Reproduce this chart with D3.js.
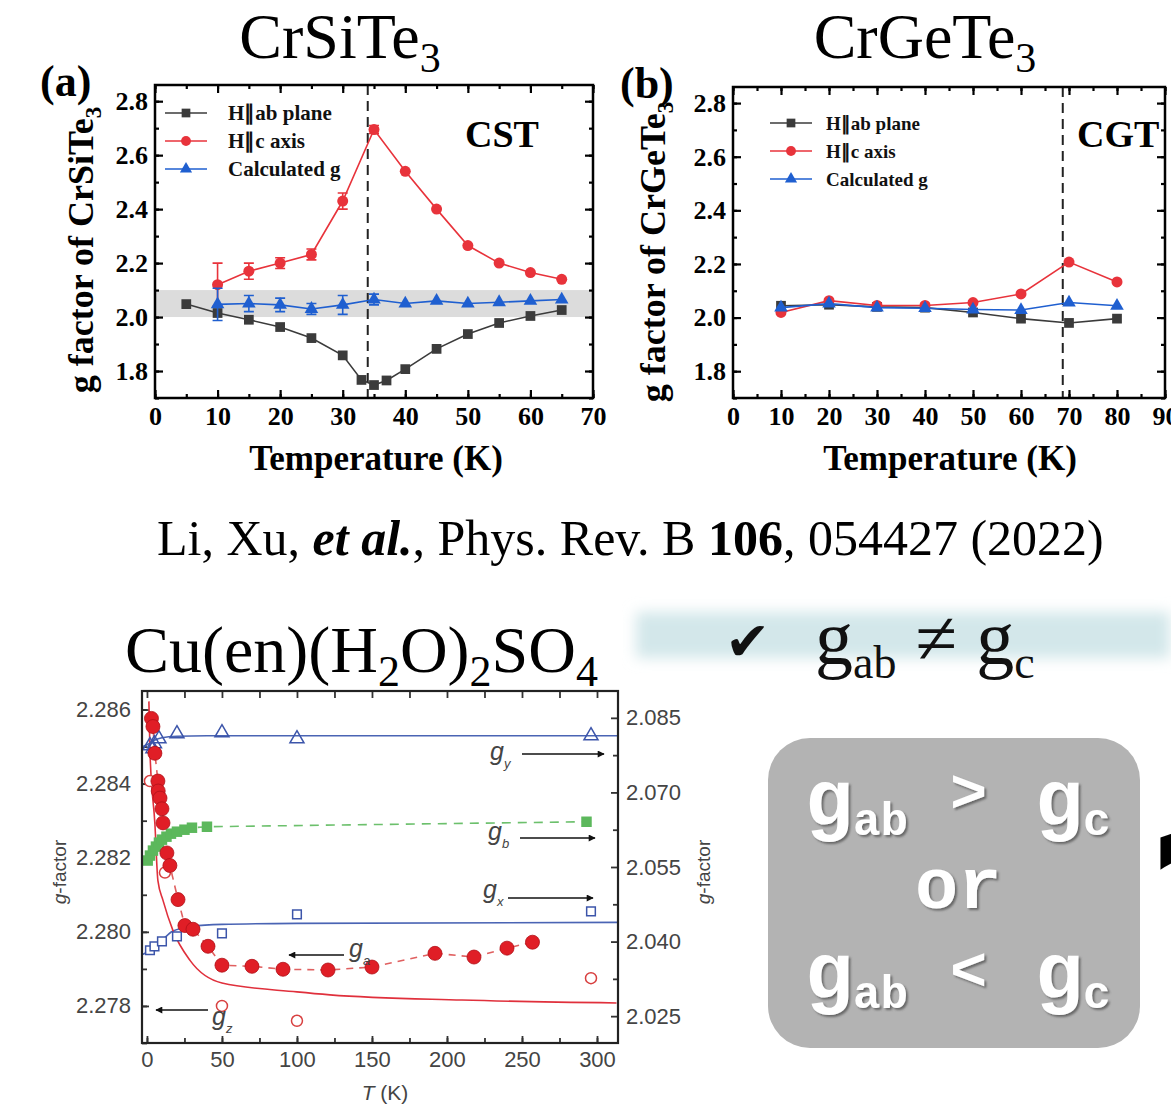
<!DOCTYPE html>
<html><head><meta charset="utf-8">
<script src="https://cdn.jsdelivr.net/npm/d3@7"></script>
<style>body{margin:0;background:#fff;} svg{display:block;}</style>
</head><body>
<script>
// ---------- Panel (a) CrSiTe3 ----------
const cstXTicks = [0,10,20,30,40,50,60,70];
const cstYTicks = [1.8,2.0,2.2,2.4,2.6,2.8];
const cstAbT  = [5,10,15,20,25,30,33,35,37,40,45,50,55,60,65];
const cstAbG  = [2.048,2.015,1.99,1.963,1.922,1.858,1.767,1.748,1.765,1.807,1.882,1.937,1.978,2.004,2.026];
const cstCT   = [10,15,20,25,30,35,40,45,50,55,60,65];
const cstCG   = [2.12,2.17,2.2,2.232,2.43,2.695,2.54,2.40,2.265,2.2,2.165,2.14];
const cstCErr = [0.08,0.03,0.02,0.02,0.03,0.015,0,0,0,0,0,0];
const cstCalcT   = [10,15,20,25,30,35,40,45,50,55,60,65];
const cstCalcG   = [2.047,2.05,2.045,2.03,2.045,2.065,2.05,2.06,2.05,2.055,2.06,2.065];
const cstCalcErr = [0.06,0.03,0.025,0.02,0.035,0.02,0,0,0,0,0,0];
const cstTc = 34;
const cstBand = [2.0,2.1];

// ---------- Panel (b) CrGeTe3 ----------
const cgtXTicks = [0,10,20,30,40,50,60,70,80,90];
const cgtYTicks = [1.8,2.0,2.2,2.4,2.6,2.8];
const cgtT     = [10,20,30,40,50,60,70,80];
const cgtAbG   = [2.044,2.048,2.04,2.037,2.019,1.996,1.98,1.996];
const cgtCG    = [2.019,2.063,2.045,2.045,2.056,2.088,2.207,2.133];
const cgtCalcG = [2.037,2.052,2.037,2.035,2.03,2.028,2.056,2.044];
const cgtTc = 68.7;

const legendLabels = ["H\u2225ab plane","H\u2225c axis","Calculated g"];

// ---------- Bottom chart Cu(en)(H2O)2SO4 ----------
const cuXTicks = [0,50,100,150,200,250,300];
const cuLTicks = [2.278,2.280,2.282,2.284,2.286];
const cuRTicks = [2.025,2.040,2.055,2.070,2.085];
// g_a (filled red circles, left axis)
const gaT = [3,4,5.3,7.3,7.5,8.7,10,10.7,13.3,15.3,20.7,25.3,30.7,40.7,50,70,90.7,120.7,150,192,218,240,257];
const gaG = [2.28576,2.28554,2.28482,2.28407,2.2838,2.28361,2.28332,2.28294,2.28213,2.28179,2.28087,2.28017,2.28007,2.27961,2.2791,2.27907,2.27899,2.27897,2.27905,2.27942,2.27932,2.27956,2.27972];
// g_z (open red circles, left axis)
const gzT = [2,12,50,100,296];
const gzG = [2.28407,2.2816,2.278,2.2776,2.27875];
// red fit line (left axis)
const gzFitT = [1.3,2,5.3,7.3,10.7,17.3,28.7,50,100,122,210,313];
const gzFitG = [2.28622,2.28487,2.28291,2.28138,2.28085,2.28004,2.27923,2.27862,2.27838,2.2783,2.27816,2.27808];
// g_y (open blue triangles, right axis)
const gyT = [2,4,5,8,20,50,100,296];
const gyG = [2.0794,2.0788,2.0798,2.0808,2.0818,2.082,2.0808,2.0814];
const gyFitT = [-3,0,5,10,20,40,100,200,314];
const gyFitG = [2.0792,2.0796,2.0805,2.0810,2.0813,2.0814,2.0814,2.0814,2.0814];
// g_b (green squares, right axis)
const gbT = [0.5,2,4,6,8,10,13,16,20,25,30,40,293];
const gbG = [2.0563,2.0573,2.0583,2.0591,2.0599,2.0605,2.0611,2.0617,2.0621,2.0625,2.0629,2.0631,2.0641];
// g_x (open blue squares, right axis)
const gxT = [2,5,10,20,50,100,296];
const gxG = [2.03825,2.03905,2.04005,2.04105,2.04166,2.04547,2.04607];
const gxFitT = [-3,0,10,17,30,50,100,314];
const gxFitG = [2.0374,2.03784,2.04025,2.04206,2.04306,2.04346,2.04366,2.04386];

// ============================================================
const W = 1171, H = 1118;
const svg = d3.select("body").append("svg").attr("width", W).attr("height", H);
svg.append("rect").attr("width", W).attr("height", H).attr("fill", "#fff");
const defs = svg.append("defs");
const SERIF = "'Liberation Serif','Times New Roman',serif";
const SANS = "'Liberation Sans',Arial,sans-serif";

function rich(parent, x, y, parts, base) {
  const t = parent.append("text").attr("x", x).attr("y", y);
  Object.entries(base || {}).forEach(([k, v]) => t.attr(k, v));
  let cur = 0;
  parts.forEach(p => {
    const s = t.append("tspan").text(p.t);
    const off = p.off || 0;
    if (off !== cur) { s.attr("dy", off - cur); cur = off; }
    if (p.size) s.attr("font-size", p.size);
    if (p.weight) s.attr("font-weight", p.weight);
    if (p.style) s.attr("font-style", p.style);
  });
  return t;
}

const colors = { ab: "#3b3b3b", c: "#e8333b", calc: "#1f5fd0" };
const symType = { ab: d3.symbolSquare, c: d3.symbolCircle, calc: d3.symbolTriangle };
const symSize = { ab: 95, c: 95, calc: 80 };

function drawPanel(cfg) {
  const x = d3.scaleLinear().domain(cfg.xDomain).range([cfg.x0, cfg.x1]);
  const y = d3.scaleLinear().domain(cfg.yDomain).range([cfg.y1, cfg.y0]);
  const g = svg.append("g");
  if (cfg.band) {
    g.append("rect").attr("x", cfg.x0).attr("width", cfg.x1 - cfg.x0)
      .attr("y", y(cfg.band[1])).attr("height", y(cfg.band[0]) - y(cfg.band[1]))
      .attr("fill", "#dcdcdc");
  }
  const style = a => {
    a.select(".domain").remove();
    a.selectAll(".tick line").attr("stroke", "#000").attr("stroke-width", 2.2);
    a.selectAll(".tick text").attr("font-family", SERIF).attr("font-weight", "bold")
      .attr("font-size", 26).attr("fill", "#000");
  };
  const minorX = d3.range(cfg.xDomain[0], cfg.xDomain[1] + 0.001, 5);
  const minorY = d3.range(1.7, cfg.yDomain[1], 0.1);
  g.append("g").attr("transform", `translate(0,${cfg.y1})`)
    .call(d3.axisBottom(x).tickValues(cfg.xTicks).tickSize(-8).tickPadding(9).tickFormat(d3.format("d"))).call(style);
  g.append("g").attr("transform", `translate(0,${cfg.y1})`)
    .call(d3.axisBottom(x).tickValues(minorX).tickSize(-4).tickFormat("")).call(style);
  g.append("g").attr("transform", `translate(0,${cfg.y0})`)
    .call(d3.axisTop(x).tickValues(cfg.xTicks).tickSize(-8).tickFormat("")).call(style);
  g.append("g").attr("transform", `translate(0,${cfg.y0})`)
    .call(d3.axisTop(x).tickValues(minorX).tickSize(-4).tickFormat("")).call(style);
  g.append("g").attr("transform", `translate(${cfg.x0},0)`)
    .call(d3.axisLeft(y).tickValues(cfg.yTicks).tickSize(-8).tickPadding(7).tickFormat(d3.format(".1f"))).call(style);
  g.append("g").attr("transform", `translate(${cfg.x0},0)`)
    .call(d3.axisLeft(y).tickValues(minorY).tickSize(-4).tickFormat("")).call(style);
  g.append("g").attr("transform", `translate(${cfg.x1},0)`)
    .call(d3.axisRight(y).tickValues(cfg.yTicks).tickSize(-8).tickFormat("")).call(style);
  g.append("g").attr("transform", `translate(${cfg.x1},0)`)
    .call(d3.axisRight(y).tickValues(minorY).tickSize(-4).tickFormat("")).call(style);

  // Tc dashed line
  g.append("line").attr("x1", x(cfg.tc)).attr("x2", x(cfg.tc)).attr("y1", cfg.y0).attr("y2", cfg.y1)
    .attr("stroke", "#222").attr("stroke-width", 2).attr("stroke-dasharray", "10,6");

  // series
  cfg.series.forEach(s => {
    const pts = s.T.map((t, i) => [t, s.G[i], s.E ? s.E[i] : 0]);
    g.append("path").datum(pts).attr("fill", "none").attr("stroke", colors[s.k]).attr("stroke-width", 1.6)
      .attr("d", d3.line().x(d => x(d[0])).y(d => y(d[1])));
    pts.filter(d => d[2] > 0).forEach(d => {
      const xx = x(d[0]);
      g.append("path").attr("fill", "none").attr("stroke", colors[s.k]).attr("stroke-width", 1.6)
        .attr("d", `M${xx - 5},${y(d[1] + d[2])}H${xx + 5}M${xx},${y(d[1] + d[2])}V${y(d[1] - d[2])}M${xx - 5},${y(d[1] - d[2])}H${xx + 5}`);
    });
    g.selectAll(null).data(pts).enter().append("path")
      .attr("transform", d => `translate(${x(d[0])},${y(d[1])})`)
      .attr("d", d3.symbol().type(symType[s.k]).size(symSize[s.k])).attr("fill", colors[s.k]);
  });

  // frame
  g.append("rect").attr("x", cfg.x0).attr("y", cfg.y0).attr("width", cfg.x1 - cfg.x0).attr("height", cfg.y1 - cfg.y0)
    .attr("fill", "none").attr("stroke", "#000").attr("stroke-width", 2.5);

  // legend
  ["ab", "c", "calc"].forEach((k, i) => {
    const ly = cfg.leg.y + i * 28;
    g.append("line").attr("x1", cfg.leg.x).attr("x2", cfg.leg.x + 42).attr("y1", ly).attr("y2", ly)
      .attr("stroke", colors[k]).attr("stroke-width", 1.6);
    g.append("path").attr("transform", `translate(${cfg.leg.x + 21},${ly})`)
      .attr("d", d3.symbol().type(symType[k]).size(symSize[k] * 0.8)).attr("fill", colors[k]);
    g.append("text").attr("x", cfg.leg.tx).attr("y", ly + 7).text(legendLabels[i])
      .attr("font-family", SERIF).attr("font-weight", "bold").attr("font-size", cfg.leg.fs).attr("fill", "#111");
  });
  g.append("text").attr("x", cfg.tag.x).attr("y", cfg.tag.y).text(cfg.tag.t)
    .attr("font-family", SERIF).attr("font-weight", "bold").attr("font-size", 38);
  // axis titles
  g.append("text").attr("x", (cfg.x0 + cfg.x1) / 2 - cfg.xlabShift).attr("y", 470).text("Temperature (K)")
    .attr("text-anchor", "middle").attr("font-family", SERIF).attr("font-weight", "bold").attr("font-size", 35);
  rich(g, 0, 0, [{ t: "g factor of " + cfg.mat }, { t: "3", size: 23, off: 8 }],
    { "text-anchor": "middle", "font-family": SERIF, "font-weight": "bold", "font-size": 36,
      transform: `translate(${cfg.ylabX},${cfg.ylabY}) rotate(-90)` });
}

drawPanel({
  x0: 155, x1: 593, y0: 85, y1: 398, xDomain: [0, 70], yDomain: [1.7, 2.86],
  xTicks: cstXTicks, yTicks: cstYTicks, tc: cstTc, band: cstBand,
  series: [
    { k: "ab", T: cstAbT, G: cstAbG },
    { k: "c", T: cstCT, G: cstCG, E: cstCErr },
    { k: "calc", T: cstCalcT, G: cstCalcG, E: cstCalcErr }
  ],
  leg: { x: 165, y: 113, tx: 228, fs: 21 },
  tag: { x: 465, y: 147, t: "CST" }, mat: "CrSiTe", ylabX: 93, ylabY: 250, xlabShift: -2
});
drawPanel({
  x0: 733, x1: 1165, y0: 87, y1: 398, xDomain: [0, 90], yDomain: [1.7, 2.86],
  xTicks: cgtXTicks, yTicks: cgtYTicks, tc: cgtTc,
  series: [
    { k: "ab", T: cgtT, G: cgtAbG },
    { k: "c", T: cgtT, G: cgtCG },
    { k: "calc", T: cgtT, G: cgtCalcG }
  ],
  leg: { x: 770, y: 123, tx: 826, fs: 19 },
  tag: { x: 1077, y: 147, t: "CGT" }, mat: "CrGeTe", ylabX: 665, ylabY: 252, xlabShift: -1
});

// panel letters and titles
svg.append("text").attr("x", 40).attr("y", 96).text("(a)").attr("font-family", SERIF).attr("font-weight", "bold").attr("font-size", 44);
svg.append("text").attr("x", 620).attr("y", 98).text("(b)").attr("font-family", SERIF).attr("font-weight", "bold").attr("font-size", 44);
rich(svg, 340, 58, [{ t: "CrSiTe" }, { t: "3", size: 42, off: 14 }], { "text-anchor": "middle", "font-family": SERIF, "font-size": 64 });
rich(svg, 925, 58, [{ t: "CrGeTe" }, { t: "3", size: 42, off: 14 }], { "text-anchor": "middle", "font-family": SERIF, "font-size": 64 });

// citation
rich(svg, 157, 555, [
  { t: "Li, Xu, " }, { t: "et al.", weight: "bold", style: "italic" }, { t: ", Phys. Rev. B " },
  { t: "106", weight: "bold" }, { t: ", 054427 (2022)" }
], { "font-family": SERIF, "font-size": 50 });

// Cu(en)(H2O)2SO4 title
rich(svg, 125, 672, [
  { t: "Cu(en)(H" }, { t: "2", size: 44, off: 14 }, { t: "O)" }, { t: "2", size: 44, off: 14 },
  { t: "SO" }, { t: "4", size: 44, off: 14 }
], { "font-family": SERIF, "font-size": 66 });

// banner
const blur = defs.append("filter").attr("id", "blur").attr("x", "-10%").attr("y", "-50%").attr("width", "120%").attr("height", "200%");
blur.append("feGaussianBlur").attr("stdDeviation", 7);
svg.append("rect").attr("x", 636).attr("y", 612).attr("width", 534).attr("height", 46).attr("fill", "#d3e7ea").attr("filter", "url(#blur)");
svg.append("text").attr("x", 725).attr("y", 660).text("\u2714").attr("font-family", "'DejaVu Sans',sans-serif").attr("font-size", 54).attr("fill", "#111");
rich(svg, 815, 664, [
  { t: "g" }, { t: "ab", size: 46, off: 14 }, { t: " \u2260 " }, { t: "g" }, { t: "c", size: 46, off: 14 }
], { "font-family": SERIF, "font-size": 76, fill: "#111" });

// gray box
svg.append("rect").attr("x", 768).attr("y", 738).attr("width", 372).attr("height", 310).attr("rx", 42).attr("fill", "#b3b3b3");
const shadow = defs.append("filter").attr("id", "shadow").attr("x", "-20%").attr("y", "-20%").attr("width", "140%").attr("height", "140%");
shadow.append("feDropShadow").attr("dx", 2).attr("dy", 2).attr("stdDeviation", 1.2).attr("flood-color", "#555").attr("flood-opacity", 0.8);
const MONO = "'Liberation Mono','DejaVu Sans Mono',monospace";
const boxText = { "font-family": MONO, "font-weight": "bold", fill: "#fff", filter: "url(#shadow)" };
rich(svg, 805, 825, [{ t: "g", size: 80 }, { t: "ab", size: 46, off: 10 }], boxText);
rich(svg, 950, 812, [{ t: ">", size: 62 }], boxText);
rich(svg, 1035, 825, [{ t: "g", size: 80 }, { t: "c", size: 46, off: 10 }], boxText);
rich(svg, 915, 908, [{ t: "or", size: 72 }], boxText);
rich(svg, 805, 998, [{ t: "g", size: 80 }, { t: "ab", size: 46, off: 10 }], boxText);
rich(svg, 950, 990, [{ t: "<", size: 62 }], boxText);
rich(svg, 1035, 998, [{ t: "g", size: 80 }, { t: "c", size: 46, off: 10 }], boxText);
// partially visible glyph at right edge
svg.append("text").attr("x", 1146).attr("y", 985).text("?").attr("font-family", "'DejaVu Sans',sans-serif")
  .attr("font-weight", "bold").attr("font-size", 210).attr("fill", "#000");

// ---------- bottom chart ----------
const bx0 = 142, bx1 = 618, by0 = 691, by1 = 1043;
const bx = d3.scaleLinear().domain([-3.3, 314]).range([bx0, bx1]);
const byL = d3.scaleLinear().domain([2.277, 2.2865]).range([by1, by0]);
const byR = d3.scaleLinear().domain([2.0196, 2.0904]).range([by1, by0]);
const bg = svg.append("g");
defs.append("clipPath").attr("id", "bclip").append("rect").attr("x", bx0).attr("y", by0).attr("width", bx1 - bx0).attr("height", by1 - by0);
const bstyle = a => {
  a.select(".domain").remove();
  a.selectAll(".tick line").attr("stroke", "#333").attr("stroke-width", 1.8);
  a.selectAll(".tick text").attr("font-family", SANS).attr("font-size", 22).attr("fill", "#444");
};
const minorBX = d3.range(0, 314, 25);
bg.append("g").attr("transform", `translate(0,${by1})`).call(d3.axisBottom(bx).tickValues(cuXTicks).tickSize(-7).tickPadding(8).tickFormat(d3.format("d"))).call(bstyle);
bg.append("g").attr("transform", `translate(0,${by1})`).call(d3.axisBottom(bx).tickValues(minorBX).tickSize(-5).tickFormat("")).call(bstyle);
bg.append("g").attr("transform", `translate(0,${by0})`).call(d3.axisTop(bx).tickValues(minorBX).tickSize(-7).tickFormat("")).call(bstyle);
bg.append("g").attr("transform", `translate(${bx0},0)`).call(d3.axisLeft(byL).tickValues(cuLTicks).tickSize(-7).tickPadding(11).tickFormat(d3.format(".3f"))).call(bstyle);
bg.append("g").attr("transform", `translate(${bx0},0)`).call(d3.axisLeft(byL).tickValues(d3.range(2.277, 2.2866, 0.001)).tickSize(-5).tickFormat("")).call(bstyle);
bg.append("g").attr("transform", `translate(${bx1},0)`).call(d3.axisRight(byR).tickValues(cuRTicks).tickSize(-7).tickPadding(8).tickFormat(d3.format(".3f"))).call(bstyle);
bg.append("g").attr("transform", `translate(${bx1},0)`).call(d3.axisRight(byR).tickValues(d3.range(2.0325, 2.09, 0.015)).tickSize(-5).tickFormat("")).call(bstyle);

const plot = bg.append("g").attr("clip-path", "url(#bclip)");
const zipL = (T, G) => T.map((t, i) => [bx(t), byL(G[i])]);
const zipR = (T, G) => T.map((t, i) => [bx(t), byR(G[i])]);
const lineC = d3.line().curve(d3.curveMonotoneX);
const lineL = d3.line();
// fit lines
plot.append("path").attr("d", lineC(zipR(gyFitT, gyFitG))).attr("fill", "none").attr("stroke", "#4a64b4").attr("stroke-width", 1.6);
plot.append("path").attr("d", lineC(zipR(gxFitT, gxFitG))).attr("fill", "none").attr("stroke", "#4a64b4").attr("stroke-width", 1.6);
plot.append("path").attr("d", lineC(zipL(gzFitT, gzFitG))).attr("fill", "none").attr("stroke", "#e0303c").attr("stroke-width", 1.6);
// dashed connecting lines
plot.append("path").attr("d", lineL(zipR(gbT, gbG))).attr("fill", "none").attr("stroke", "#6cc06c").attr("stroke-width", 1.6).attr("stroke-dasharray", "9,7");
plot.append("path").attr("d", lineL(zipL(gaT, gaG))).attr("fill", "none").attr("stroke", "#e06060").attr("stroke-width", 1.6).attr("stroke-dasharray", "7,6");
// markers
plot.selectAll(null).data(zipR(gyT, gyG)).enter().append("path").attr("transform", d => `translate(${d[0]},${d[1]})`)
  .attr("d", d3.symbol().type(d3.symbolTriangle).size(85)).attr("fill", "none").attr("stroke", "#3c55aa").attr("stroke-width", 1.5);
plot.selectAll(null).data(zipR(gxT, gxG)).enter().append("path").attr("transform", d => `translate(${d[0]},${d[1]})`)
  .attr("d", d3.symbol().type(d3.symbolSquare).size(75)).attr("fill", "#fff").attr("stroke", "#3c55aa").attr("stroke-width", 1.5);
plot.selectAll(null).data(zipR(gbT, gbG)).enter().append("path").attr("transform", d => `translate(${d[0]},${d[1]})`)
  .attr("d", d3.symbol().type(d3.symbolSquare).size(110)).attr("fill", "#5cb85c");
plot.selectAll(null).data(zipL(gzT, gzG)).enter().append("circle").attr("cx", d => d[0]).attr("cy", d => d[1])
  .attr("r", 5.5).attr("fill", "#fff").attr("stroke", "#d84040").attr("stroke-width", 1.5);
plot.selectAll(null).data(zipL(gaT, gaG)).enter().append("circle").attr("cx", d => d[0]).attr("cy", d => d[1])
  .attr("r", 7).attr("fill", "#e01e26").attr("stroke", "#b01018").attr("stroke-width", 0.8);
// frame
bg.append("rect").attr("x", bx0).attr("y", by0).attr("width", bx1 - bx0).attr("height", by1 - by0).attr("fill", "none").attr("stroke", "#222").attr("stroke-width", 2.2);

// arrows and labels
defs.append("marker").attr("id", "ah").attr("viewBox", "0 0 10 10").attr("refX", 9).attr("refY", 5)
  .attr("markerWidth", 9).attr("markerHeight", 7).attr("markerUnits", "userSpaceOnUse").attr("orient", "auto")
  .append("path").attr("d", "M0,0L10,5L0,10Z").attr("fill", "#111");
const arrows = [[522, 604, 754], [520, 595, 838], [508, 593, 898], [344, 289, 955], [208, 156, 1010]];
arrows.forEach(a => bg.append("line").attr("x1", a[0]).attr("x2", a[1]).attr("y1", a[2]).attr("y2", a[2])
  .attr("stroke", "#111").attr("stroke-width", 1.6).attr("marker-end", "url(#ah)"));
const glabs = [[490, 760, "y"], [488, 840, "b"], [483, 898, "x"], [349, 957, "a"], [212, 1025, "z"]];
glabs.forEach(l => rich(bg, l[0], l[1], [{ t: "g" }, { t: l[2], size: 13, off: 8 }],
  { "font-family": SANS, "font-style": "italic", "font-size": 25, fill: "#444" }));

// axis titles bottom
rich(svg, 0, 0, [{ t: "g", style: "italic" }, { t: "-factor" }],
  { "text-anchor": "middle", "font-family": SANS, "font-size": 19, fill: "#444", transform: "translate(66,872) rotate(-90)" });
rich(svg, 0, 0, [{ t: "g", style: "italic" }, { t: "-factor" }],
  { "text-anchor": "middle", "font-family": SANS, "font-size": 19, fill: "#444", transform: "translate(710,872) rotate(-90)" });
rich(svg, 385, 1100, [{ t: "T", style: "italic" }, { t: " (K)" }],
  { "text-anchor": "middle", "font-family": SANS, "font-size": 21, fill: "#444" });
</script>
</body></html>
